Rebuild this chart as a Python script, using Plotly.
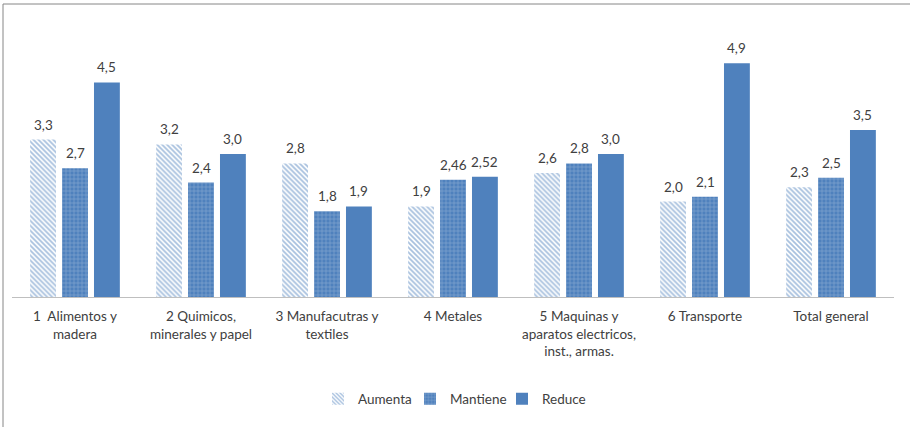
import plotly.graph_objects as go

categories = [
    "1  Alimentos y<br>madera",
    "2 Quimicos,<br>minerales y papel",
    "3 Manufacutras y<br>textiles",
    "4 Metales",
    "5 Maquinas y<br>aparatos electricos,<br>inst., armas.",
    "6 Transporte",
    "Total general",
]
aumenta = [3.3, 3.2, 2.8, 1.9, 2.6, 2.0, 2.3]
mantiene = [2.7, 2.4, 1.8, 2.46, 2.8, 2.1, 2.5]
reduce_ = [4.5, 3.0, 1.9, 2.52, 3.0, 4.9, 3.5]

BLUE = "#4F81BD"
TEXT = "#404040"
FONT = "Lato"
FS = 13.5

W, H = 910, 427
L, R, T, B = 12, 16, 49, 130
BARGAP = 0.24


def fmt(v):
    s = f"{v:.2f}"
    if s.endswith("0"):
        s = s[:-1]
    return s.replace(".", ",")


series = [
    ("Aumenta", aumenta, "white",
     dict(shape="\\", fgcolor=BLUE, bgcolor="white", size=3.5, solidity=0.5)),
    ("Mantiene", mantiene, BLUE,
     dict(shape="+", fgcolor="#B4C8E3", bgcolor=BLUE, size=4, solidity=0.3)),
    ("Reduce", reduce_, BLUE, None),
]

pw = W - L - R
ph = H - T - B
slot = pw / len(categories) * (1 - BARGAP) / len(series)

fig = go.Figure()
annotations = []
for i, (name, vals, color, pat) in enumerate(series):
    marker = dict(color=color, line=dict(width=0))
    if pat is not None:
        marker["pattern"] = pat
    fig.add_trace(go.Bar(name=name, x=categories, y=vals, marker=marker))
    # value labels above each bar
    for c, v in zip(categories, vals):
        annotations.append(dict(
            x=c, y=v, xref="x", yref="y",
            text=fmt(v), showarrow=False,
            xanchor="center", yanchor="bottom",
            xshift=(i - 1) * slot, yshift=5,
            font=dict(family=FONT, size=FS, color=TEXT),
        ))

fig.update_layout(
    width=W,
    height=H,
    margin=dict(l=L, r=R, t=T, b=B),
    paper_bgcolor="white",
    plot_bgcolor="white",
    barmode="group",
    bargap=BARGAP,
    bargroupgap=0.19,
    font=dict(family=FONT, size=FS, color=TEXT),
    showlegend=True,
    legend=dict(
        orientation="h",
        x=(318 - L) / pw,
        xanchor="left",
        y=-(399 - (T + ph)) / ph,
        yanchor="middle",
        font=dict(family=FONT, size=FS, color=TEXT),
        itemwidth=30,
        entrywidth=47,
        entrywidthmode="pixels",
        traceorder="normal",
    ),
    xaxis=dict(
        showline=True,
        linecolor="#BFBFBF",
        linewidth=1,
        ticks="",
        ticklabelstandoff=7,
        tickfont=dict(family=FONT, size=FS, color=TEXT),
        showgrid=False,
    ),
    yaxis=dict(
        range=[0, 5.2],
        visible=False,
        showgrid=False,
        zeroline=False,
    ),
    annotations=annotations,
    shapes=[
        dict(type="line", xref="paper", yref="paper",
             x0=(3 - L) / pw, x1=(W + 5 - L) / pw,
             y0=(T + ph - 4) / ph, y1=(T + ph - 4) / ph,
             line=dict(color="#868686", width=1)),
        dict(type="line", xref="paper", yref="paper",
             x0=(3 - L) / pw, x1=(3 - L) / pw,
             y0=(T + ph - 4) / ph, y1=-(B + 5) / ph,
             line=dict(color="#868686", width=1)),
    ],
)

fig.write_html("out.html")
